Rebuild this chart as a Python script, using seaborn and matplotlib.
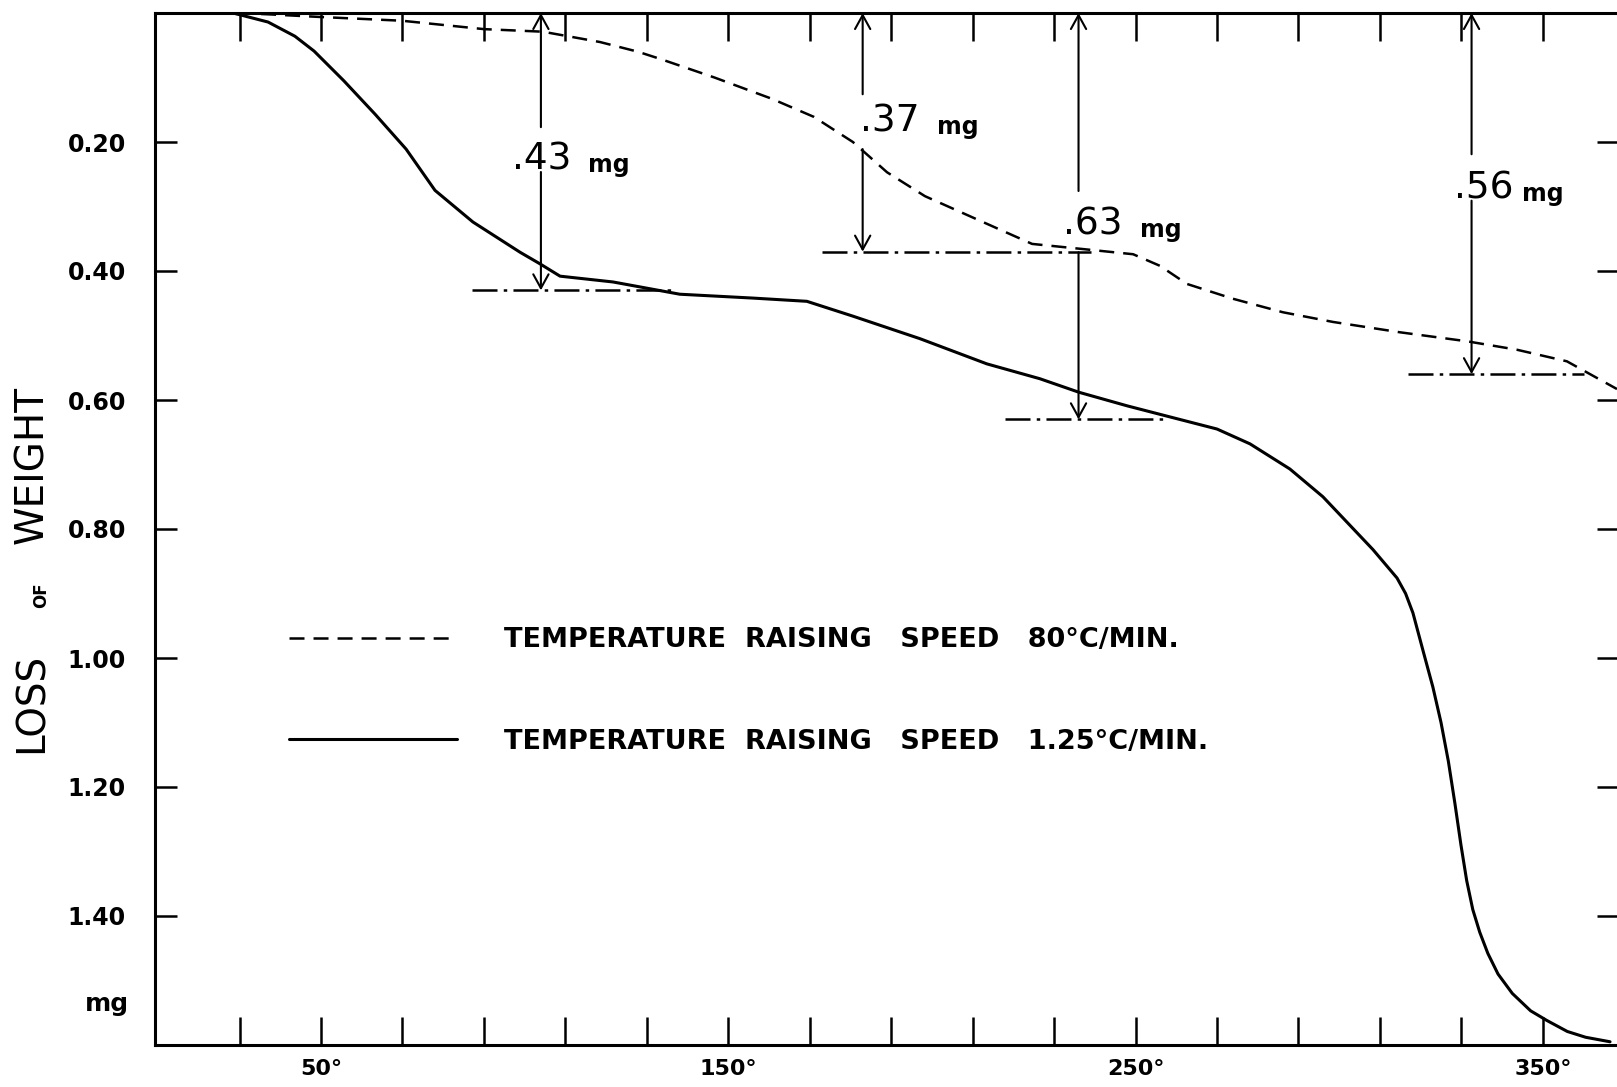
import matplotlib
matplotlib.use("Agg")
import matplotlib.pyplot as plt
import seaborn as sns

# Loss of weight (mg) against temperature (deg C), heating at 80 deg C/min
fast_temp = [29.4, 37.0, 49.3, 69.9, 90.0, 104.5, 118.5, 127.8, 133.2, 146.6,
             160.7, 171.0, 180.6, 189.0, 198.3, 212.5, 224.6, 237.1, 249.4,
             256.0, 262.6, 273.9, 286.2, 298.5, 314.9, 331.4, 343.6, 355.9,
             368.2]
fast_loss = [0.000, 0.002, 0.006, 0.012, 0.025, 0.029, 0.045, 0.060, 0.071, 0.100,
             0.133, 0.161, 0.200, 0.247, 0.284, 0.324, 0.358, 0.366, 0.374,
             0.392, 0.420, 0.443, 0.464, 0.479, 0.495, 0.509, 0.522, 0.540,
             0.583]

# Loss of weight (mg) against temperature (deg C), heating at 1.25 deg C/min
slow_temp = [28.4, 37.0, 43.6, 48.3, 55.6, 63.3, 70.9, 78.0, 87.3, 98.9, 103.8,
             108.7, 121.7, 138.1, 156.1, 169.3, 180.6, 197.1, 213.5, 226.5,
             236.1, 247.9, 257.7, 270.0, 278.1, 287.9, 296.0, 300.2, 308.3,
             314.2, 316.3, 318.1, 320.6, 323.0, 325.0, 326.8, 328.4, 329.9,
             331.3, 332.8, 334.5, 336.5, 339.0, 342.5, 347.0, 351.0, 356.0,
             360.5, 366.5]
slow_loss = [0.000, 0.014, 0.036, 0.059, 0.105, 0.157, 0.211, 0.275, 0.324, 0.371,
             0.389, 0.408, 0.417, 0.436, 0.442, 0.447, 0.470, 0.505, 0.544,
             0.567, 0.588, 0.609, 0.625, 0.645, 0.668, 0.707, 0.750, 0.778,
             0.832, 0.876, 0.900, 0.930, 0.989, 1.045, 1.100, 1.160, 1.225,
             1.290, 1.345, 1.390, 1.425, 1.458, 1.490, 1.520, 1.547, 1.562,
             1.579, 1.588, 1.595]

# Measured weight-loss steps: temperature of the arrow, loss (mg), level-line span
step_temp = [104.0, 183.0, 236.0, 332.5]
step_loss = [0.43, 0.37, 0.63, 0.56]
step_span = [(87.0, 136.0), (173.0, 239.0), (218.0, 257.0), (317.0, 360.0)]

series_labels = ["TEMPERATURE  RAISING   SPEED   80°C/MIN.",
                 "TEMPERATURE  RAISING   SPEED   1.25°C/MIN."]

x_ticks = list(range(30, 351, 20))
x_labelled = {50: "50°", 150: "150°", 250: "250°", 350: "350°"}
y_ticks = [0.20, 0.40, 0.60, 0.80, 1.00, 1.20, 1.40]
y_tick_labels = ["0.20", "0.40", "0.60", "0.80", "1.00", "1.20", "1.40"]

sns.set_theme(style="white")
plt.rcParams["font.family"] = ["DejaVu Sans"]
plt.rcParams["lines.scale_dashes"] = False
for key in ("text.color", "axes.labelcolor", "xtick.color", "ytick.color",
            "axes.edgecolor"):
    plt.rcParams[key] = "black"

W, H = 1617, 1087
fig = plt.figure(figsize=(W / 100, H / 100), dpi=100)
fig.patch.set_facecolor("white")
ax = fig.add_axes([155 / W, 42 / H, 1464 / W, 1032 / H])
ax.set_facecolor("white")

sns.lineplot(x=fast_temp, y=fast_loss, ax=ax, color="black", linewidth=1.8,
             linestyle=(0, (10.8, 6.5)), label=series_labels[0], sort=False, zorder=4)
sns.lineplot(x=slow_temp, y=slow_loss, ax=ax, color="black", linewidth=2.2,
             label=series_labels[1], sort=False, zorder=4)

ax.set_xlim(9.25, 368.7)
ax.set_ylim(1.6, 0.0)

# level lines and double arrows for each step
gaps = [(0.177, 0.2465), (0.126, 0.211), (0.276, 0.371), (0.219, 0.291)]
label_pos = [(96.9, 115.6), (182.3, 201.2), (232.2, 251.1), (328.2, 344.9)]
baselines = [0.243, 0.184, 0.343, 0.288]
arrow_kw = dict(arrowstyle="->,head_length=1.0,head_width=0.55", lw=1.5,
                color="black", shrinkA=0, shrinkB=0, mutation_scale=10)
for T, v, (x0, x1), (g0, g1), (tx, mx), yb in zip(step_temp, step_loss, step_span,
                                                 gaps, label_pos, baselines):
    ax.hlines(v, x0, x1, colors="black", linewidth=1.8,
              linestyles=[(0, (18, 4.5, 2.5, 4.5))], zorder=3)
    ax.annotate("", xy=(T, 0.0), xytext=(T, g0), arrowprops=arrow_kw,
                annotation_clip=False)
    ax.annotate("", xy=(T, v), xytext=(T, g1), arrowprops=arrow_kw)
    ax.text(tx, yb, f".{round(v * 100):d}", fontsize=27, ha="left", va="baseline",
            color="black")
    ax.text(mx, yb + 0.004, "mg", fontsize=17, fontweight="bold", ha="left",
            va="baseline", color="black")

# axes frame and ticks
for s in ax.spines.values():
    s.set_visible(True)
    s.set_color("black")
    s.set_linewidth(2.2)

ax.set_xticks(x_ticks)
ax.set_xticklabels([x_labelled.get(t, "") for t in x_ticks], fontsize=16,
                   fontweight="bold", color="black")
ax.set_yticks(y_ticks)
ax.set_yticklabels(y_tick_labels, fontsize=17, fontweight="bold", color="black")
ax.tick_params(axis="x", direction="in", length=20, width=1.8, color="black",
               top=True, bottom=True, labeltop=False, pad=10)
ax.tick_params(axis="y", direction="in", length=16, width=1.8, color="black",
               left=True, right=True, labelright=False, pad=21)
ax.set_xlabel("")
ax.set_ylabel("")

leg = ax.legend(loc="upper left", bbox_to_anchor=(0.0915, 0.405), frameon=False,
                fontsize=19.5, handlelength=6.2, handletextpad=1.75,
                labelspacing=2.8, borderpad=0.0, borderaxespad=0.0)
for t in leg.get_texts():
    t.set_fontweight("bold")
    t.set_color("black")

# vertical axis title and unit
fig.text(32 / W, 1 - 703 / H, "LOSS", rotation=90, fontsize=28, ha="center",
         va="center", color="black")
fig.text(41 / W, 1 - 595 / H, "OF", rotation=90, fontsize=12, fontweight="bold",
         ha="center", va="center", color="black")
fig.text(32 / W, 1 - 465 / H, "WEIGHT", rotation=90, fontsize=28, ha="center",
         va="center", color="black")
fig.text(107 / W, 1 - 1004 / H, "mg", fontsize=18, fontweight="bold", ha="center",
         va="center", color="black")

fig.savefig("out.png", dpi=100, facecolor="white")
